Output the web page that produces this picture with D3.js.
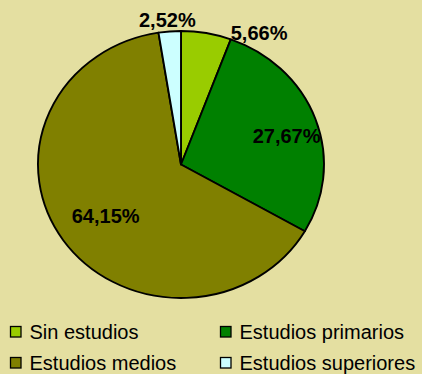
<!DOCTYPE html>
<html>
<head>
<meta charset="utf-8">
<script src="https://cdn.jsdelivr.net/npm/d3@7/dist/d3.min.js"></script>
<style>
  html, body { margin: 0; padding: 0; background: #e4dfa1; }
  svg { display: block; }
  text { font-family: "Liberation Sans", Arial, sans-serif; fill: #000; }
</style>
</head>
<body>
<svg id="chart" width="422" height="374"></svg>
<script>
// Nivel de estudios (%)
const categories = ["Sin estudios", "Estudios primarios", "Estudios medios", "Estudios superiores"];
const values = [5.66, 27.67, 64.15, 2.52];
const valueLabels = ["5,66%", "27,67%", "64,15%", "2,52%"];
const colors = ["#99cc00", "#008000", "#808000", "#ccffff"];

const W = 422, H = 374;
const cx = 181, cy = 164.5, rx = 143, ry = 133.5;

// label placement: radius factor and angular shift (degrees) from the slice's mid angle
const labelPlacement = [
  { k: 1.13, shift: 18.7 },
  { k: 0.77, shift: 3.4 },
  { k: 0.65, shift: -1.3 },
  { k: 1.09, shift: -0.5 }
];

const svg = d3.select("#chart");

const pie = d3.pie().sort(null).value(d => d);
const arcs = pie(values);
const arc = d3.arc().innerRadius(0).outerRadius(rx);

const g = svg.append("g")
  .attr("transform", `translate(${cx},${cy}) scale(1,${ry / rx})`);

g.selectAll("path")
  .data(arcs)
  .join("path")
  .attr("d", arc)
  .attr("fill", (d, i) => colors[i])
  .attr("stroke", "#000")
  .attr("stroke-width", 1.9)
  .attr("stroke-linejoin", "round")
  .attr("vector-effect", "non-scaling-stroke");

// value labels
svg.append("g").selectAll("text")
  .data(arcs)
  .join("text")
  .attr("x", (d, i) => {
    const a = (d.startAngle + d.endAngle) / 2 + labelPlacement[i].shift * Math.PI / 180;
    return cx + rx * labelPlacement[i].k * Math.sin(a);
  })
  .attr("y", (d, i) => {
    const a = (d.startAngle + d.endAngle) / 2 + labelPlacement[i].shift * Math.PI / 180;
    return cy - ry * labelPlacement[i].k * Math.cos(a);
  })
  .attr("dy", "0.36em")
  .attr("text-anchor", "middle")
  .style("font-size", "20px")
  .style("font-weight", "bold")
  .text((d, i) => valueLabels[i]);

// legend, two columns
const legendX = d3.scaleOrdinal().domain([0, 1]).range([10, 220]);
const legendY = d3.scaleOrdinal().domain([0, 1]).range([338.5, 369.5]);

const items = svg.append("g").selectAll("g")
  .data(categories)
  .join("g")
  .attr("transform", (d, i) => `translate(${legendX(i % 2)},${legendY(Math.floor(i / 2))})`);

items.append("rect")
  .attr("x", 0.5)
  .attr("y", -12)
  .attr("width", 10.5)
  .attr("height", 10.5)
  .attr("fill", (d, i) => colors[i])
  .attr("stroke", "#000")
  .attr("stroke-width", 1.3);

items.append("text")
  .attr("x", 19.5)
  .attr("y", 0)
  .style("font-size", "20px")
  .text(d => d);
</script>
</body>
</html>
